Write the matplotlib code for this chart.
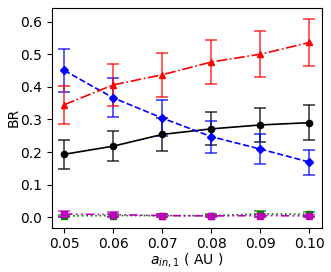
import numpy as np
import matplotlib
matplotlib.use("Agg")
import matplotlib.pyplot as plt

# semi-major axis of inner orbit (AU)
a_in = [0.05, 0.06, 0.07, 0.08, 0.09, 0.10]

br_black = [0.193, 0.218, 0.254, 0.271, 0.283, 0.290]
err_black = [0.044, 0.046, 0.051, 0.051, 0.053, 0.054]

br_blue = [0.450, 0.366, 0.304, 0.247, 0.209, 0.169]
err_blue = [0.067, 0.060, 0.054, 0.049, 0.045, 0.038]

br_red = [0.345, 0.406, 0.437, 0.476, 0.500, 0.536]
err_red = [0.058, 0.064, 0.067, 0.068, 0.071, 0.071]

br_green = [0.004, 0.005, 0.005, 0.005, 0.010, 0.009]
err_green = [0.004, 0.004, 0.004, 0.004, 0.008, 0.008]

br_magenta = [0.010, 0.008, 0.005, 0.004, 0.005, 0.004]
err_magenta = [0.008, 0.007, 0.005, 0.004, 0.005, 0.004]

series = [
    (br_black, err_black, "k", "-", "o"),
    (br_blue, err_blue, "b", "--", "D"),
    (br_red, err_red, "r", "-.", "^"),
    (br_green, err_green, "g", ":", "s"),
    (br_magenta, err_magenta, "m", (0, (5, 2, 1, 2, 1, 2)), "s"),
]

fig = plt.figure(figsize=(3.31, 2.72), dpi=100)
ax = fig.add_axes([0.157, 0.163, 0.815, 0.808])

for y, e, c, ls, mk in series:
    eb = ax.errorbar(a_in, y, yerr=e, color=c, ls=ls, marker=mk, ms=4.5,
                     lw=1.2, capsize=4, elinewidth=1.2, capthick=1.2)
    for part in eb[1] + eb[2]:
        part.set_alpha(0.75)

ax.set_xticks(a_in)
ax.set_xticklabels(["0.05", "0.06", "0.07", "0.08", "0.09", "0.10"])
ax.set_yticks([0.0, 0.1, 0.2, 0.3, 0.4, 0.5, 0.6])
ax.set_ylim(-0.032, 0.642)
ax.tick_params(labelsize=10)
ax.set_xlabel(r"$a_{in,1}$ ( AU )", fontsize=10, labelpad=0)
ax.set_ylabel("BR", fontsize=10, labelpad=0)

plt.savefig("out.png", dpi=100)
